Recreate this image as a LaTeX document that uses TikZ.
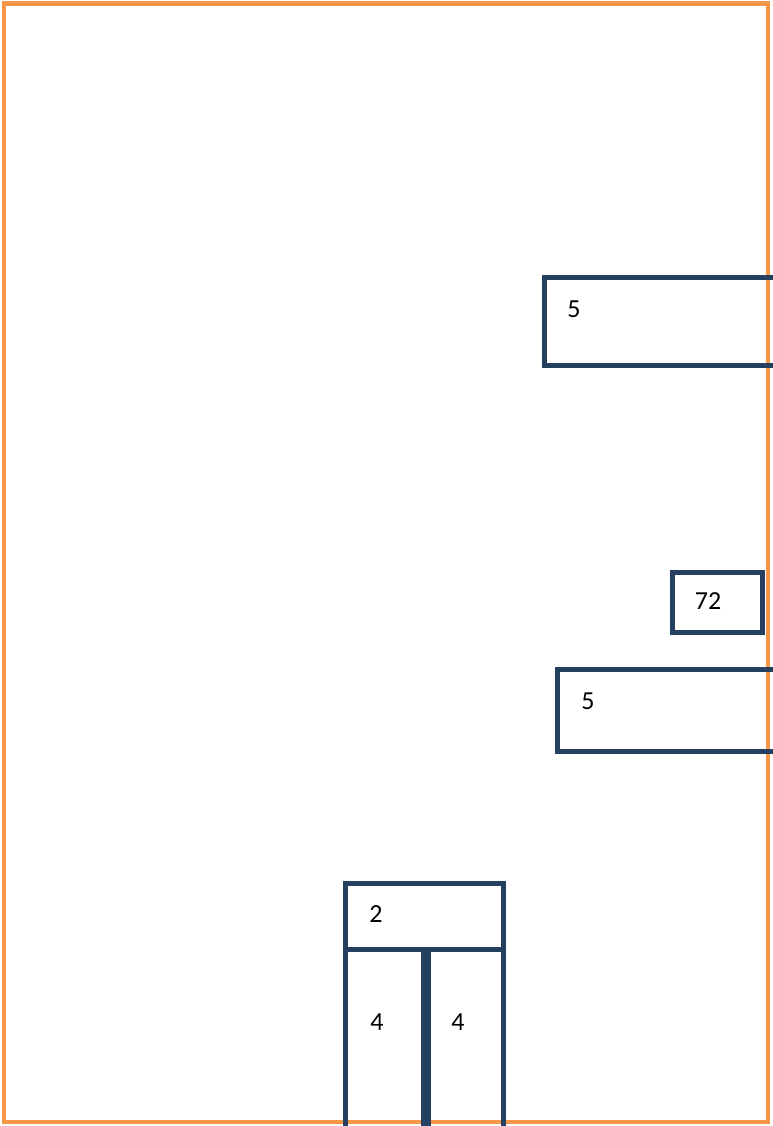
\documentclass[tikz,border=0pt]{standalone}
\usepackage{fontspec}
\setmainfont{Carlito}
\usepackage{xcolor}
\usetikzlibrary{positioning}

\definecolor{frameorange}{HTML}{F79646}
\definecolor{boxblue}{HTML}{243F60}

\begin{document}
\begin{tikzpicture}[
    x=1pt, y=-1pt,
    box/.style={rectangle, draw=boxblue, line width=5pt, anchor=north west, inner sep=0pt, outer sep=0pt},
    num/.style={font=\fontsize{26}{30}\selectfont, inner sep=0pt, anchor=center}
]
    \useasboundingbox (0,0) rectangle (772,1126);
    \draw[frameorange, line width=4.5pt] (4,3.5) rectangle (768,1122);

    \node[box, minimum width=232pt, minimum height=87.5pt] (upper) at (544,277.5) {};
    \node[box, minimum width=90pt, minimum height=60pt] (small) at (672,572) {};
    \node[box, minimum width=218pt, minimum height=81.5pt] (lower) at (557,669.5) {};
    \node[box, minimum width=158pt, minimum height=65.5pt] (head) at (345.5,883.5) {};
    \node[box, minimum width=78pt, minimum height=180pt] (legl) at (345.5,949) {};
    \node[box, minimum width=75pt, minimum height=180pt] (legr) at (428.5,949) {};

    \node[num] (upperlbl) at (574,309) {5};
    \node[num] (smalllbl) at (708,601) {72};
    \node[num] (lowerlbl) at (588,701) {5};
    \node[num] (headlbl) at (376,914) {2};
    \node[num] (legllbl) at (377,1022) {4};
    \node[num] (legrlbl) at (458,1022) {4};
\end{tikzpicture}
\end{document}
